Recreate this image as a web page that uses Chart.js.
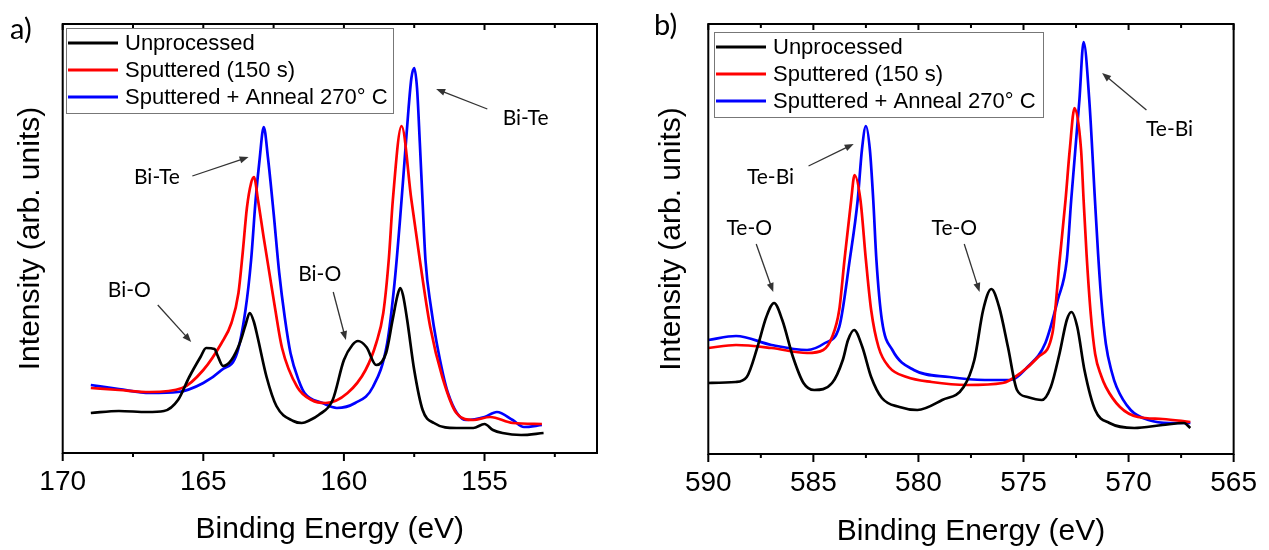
<!DOCTYPE html>
<html>
<head>
<meta charset="utf-8">
<script src="https://cdn.jsdelivr.net/npm/chart.js"></script>
<style>
  body { margin: 0; background: #fff; }
  #wrap { position: relative; width: 1269px; height: 550px; }
  canvas { position: absolute; top: 0; }
  #biChart { left: 0; }
  #teChart { left: 634px; }
</style>
</head>
<body>
<div id="wrap">
  <canvas id="biChart" width="634" height="550"></canvas>
  <canvas id="teChart" width="635" height="550"></canvas>
</div>
<script>
// series names (same for both panels)
const seriesNames = ['Unprocessed', 'Sputtered (150 s)', 'Sputtered + Anneal 270\u00b0 C'];
const seriesColors = ['#000000', '#ff0000', '#0000ff'];

// ---- panel a) Bi 4f ----
const biTicks = [170, 165, 160, 155];
const biMinor = [167.5, 162.5, 157.5, 152.5];

const biUnprocE = [169.0, 168.0, 167.0, 166.4, 165.9, 165.5, 165.1, 164.9, 164.6, 164.5, 164.3, 164.0, 163.7, 163.5, 163.35, 163.2, 163.07, 162.75, 162.4, 161.8, 161.5, 161.2, 160.9, 160.4, 160.0, 159.7, 159.5, 159.2, 158.85, 158.5, 158.27, 158.1, 158.0, 157.9, 157.75, 157.5, 157.2, 156.8, 156.0, 155.4, 155.0, 154.7, 154.36, 153.7, 152.9];
const biUnprocI = [40, 42, 41, 42, 53, 76, 96, 105, 104, 98, 87, 93, 110, 128, 140, 131, 116, 76, 47, 32, 30, 33, 38, 53, 93, 108, 112, 106, 88, 100, 133, 157, 165, 158, 133, 83, 43, 30, 25, 25, 29, 23, 20, 18, 20];

const biSputE = [169.0, 168.0, 166.9, 165.75, 165.0, 164.35, 164.0, 163.75, 163.6, 163.45, 163.3, 163.2, 163.05, 162.85, 162.65, 162.45, 162.2, 161.66, 161.15, 160.65, 159.87, 159.23, 158.85, 158.6, 158.4, 158.26, 157.95, 157.6, 157.3, 156.93, 156.5, 156.0, 155.4, 154.8, 154.0, 152.96];
const biSputI = [65, 63, 61, 65, 83, 110, 130, 160, 200, 245, 270, 276, 252, 215, 180, 145, 105, 66, 53, 50, 60, 83, 110, 140, 195, 253, 327, 253, 193, 126, 76, 40, 33, 36, 30, 29];

const biAnnealE = [169.0, 168.0, 166.9, 165.9, 165.0, 164.35, 163.8, 163.5, 163.3, 163.14, 163.0, 162.85, 162.7, 162.5, 162.3, 162.1, 161.9, 161.6, 161.4, 160.76, 160.25, 159.6, 158.97, 158.46, 158.2, 158.0, 157.85, 157.7, 157.6, 157.5, 157.4, 157.3, 157.2, 157.1, 156.9, 156.7, 156.3, 155.65, 155.0, 154.56, 154.0, 153.6, 152.96];
const biAnnealI = [68, 64, 60, 61, 70, 83, 100, 143, 193, 253, 293, 326, 295, 240, 180, 135, 100, 72, 60, 50, 45, 50, 66, 110, 170, 235, 290, 345, 375, 385, 365, 310, 250, 193, 145, 110, 60, 33, 36, 41, 33, 26, 28];

// ---- panel b) Te 3d ----
const teTicks = [590, 585, 580, 575, 570, 565];
const teMinor = [587.5, 582.5, 577.5, 572.5, 567.5];

const teUnprocE = [590.0, 588.7, 588.17, 587.66, 587.24, 586.87, 586.48, 585.97, 585.47, 584.96, 584.11, 583.6, 583.35, 583.06, 582.67, 582.25, 581.74, 580.9, 580.05, 578.87, 577.85, 577.34, 576.92, 576.53, 576.16, 575.74, 575.31, 574.81, 574.13, 573.7, 573.28, 572.94, 572.72, 572.44, 572.1, 571.59, 570.91, 569.73, 568.38, 567.36, 567.06];
const teUnprocI = [71, 72, 77, 107, 137, 151, 134, 97, 71, 64, 71, 94, 114, 124, 107, 77, 56, 47, 44, 54, 67, 94, 144, 165, 147, 107, 64, 57, 54, 67, 101, 134, 142, 127, 84, 44, 31, 26, 29, 31, 26];

const teSputE = [590.0, 588.68, 586.99, 585.3, 584.53, 584.11, 583.77, 583.52, 583.2, 583.04, 582.76, 582.5, 582.25, 581.9, 581.4, 580.56, 579.37, 577.68, 575.99, 575.14, 574.3, 573.62, 573.28, 573.0, 572.8, 572.57, 572.26, 572.14, 572.0, 571.8, 571.59, 571.3, 571.08, 570.41, 569.56, 568.38, 567.06];
const teSputI = [106, 109, 106, 101, 104, 117, 144, 194, 254, 279, 254, 194, 144, 107, 87, 77, 72, 69, 71, 81, 97, 121, 194, 254, 304, 346, 304, 254, 200, 140, 100, 78, 67, 47, 37, 35, 32];

const teAnnealE = [590.0, 588.68, 586.99, 585.3, 584.45, 583.77, 583.27, 582.89, 582.69, 582.5, 582.31, 582.15, 582.0, 581.74, 581.24, 580.22, 578.53, 576.84, 575.65, 574.81, 573.96, 573.37, 572.94, 572.73, 572.34, 572.14, 571.87, 571.6, 571.45, 571.3, 571.08, 570.8, 570.57, 569.9, 569.05, 568.04, 567.06];
const teAnnealI = [114, 118, 109, 104, 111, 127, 194, 254, 304, 328, 304, 254, 194, 134, 104, 84, 77, 74, 74, 87, 111, 154, 194, 254, 354, 412, 354, 254, 200, 155, 110, 82, 67, 44, 34, 31, 31];

const textFont = "'Liberation Sans', Arial, sans-serif";
const noteFont = "Lato, 'Open Sans', sans-serif";

function pts(xs, ys) {
    return xs.map(function (x, i) { return { x: x, y: ys[i] }; });
}

function makeSets(series) {
    return series.map(function (s, i) {
        return {
            label: seriesNames[i],
            data: pts(s[0], s[1]),
            borderColor: seriesColors[i],
            borderWidth: 2.7,
            pointRadius: 0,
            cubicInterpolationMode: 'monotone',
            fill: false
        };
    });
}

function arrow(ctx, x0, y0, x1, y1) {
    const ang = Math.atan2(y1 - y0, x1 - x0);
    const hl = 9, hw = 3.5;
    ctx.beginPath();
    ctx.moveTo(x0, y0);
    ctx.lineTo(x1 - Math.cos(ang) * hl * 0.8, y1 - Math.sin(ang) * hl * 0.8);
    ctx.stroke();
    ctx.beginPath();
    ctx.moveTo(x1, y1);
    ctx.lineTo(x1 - hl * Math.cos(ang) + hw * Math.sin(ang), y1 - hl * Math.sin(ang) - hw * Math.cos(ang));
    ctx.lineTo(x1 - hl * Math.cos(ang) - hw * Math.sin(ang), y1 - hl * Math.sin(ang) + hw * Math.cos(ang));
    ctx.closePath();
    ctx.fill();
}

// frame, ticks, legend, peak labels and panel letter
const framePlugin = {
    id: 'frame',
    afterDatasetsDraw: function (chart, args, opts) {
        const ctx = chart.ctx, a = chart.chartArea;
        const xs = chart.scales.x, ys = chart.scales.y;
        ctx.save();
        ctx.strokeStyle = '#000';
        ctx.lineWidth = 2;
        ctx.strokeRect(a.left, a.top, a.right - a.left, a.bottom - a.top);

        function tick(v, down, up) {
            const px = xs.getPixelForValue(v);
            ctx.beginPath();
            ctx.moveTo(px, a.bottom); ctx.lineTo(px, a.bottom + down);
            ctx.moveTo(px, a.top); ctx.lineTo(px, a.top + up);
            ctx.stroke();
        }
        opts.major.forEach(function (v) { tick(v, 8, 6); });
        opts.minor.forEach(function (v) { tick(v, 4, 4); });

        // peak labels
        ctx.font = '21px ' + noteFont;
        ctx.textAlign = 'center';
        ctx.textBaseline = 'middle';
        ctx.fillStyle = '#000';
        ctx.strokeStyle = '#333';
        ctx.lineWidth = 1.3;
        opts.notes.forEach(function (n) {
            ctx.fillText(n.t, xs.getPixelForValue(n.x), ys.getPixelForValue(n.y));
            ctx.fillStyle = '#333';
            arrow(ctx, xs.getPixelForValue(n.from[0]), ys.getPixelForValue(n.from[1]),
                xs.getPixelForValue(n.to[0]), ys.getPixelForValue(n.to[1]));
            ctx.fillStyle = '#000';
        });

        // legend box
        const L = opts.legend;
        const bx = a.left + L.dx, by = a.top + L.dy;
        ctx.fillStyle = '#fff';
        ctx.fillRect(bx, by, L.w, L.h);
        ctx.strokeStyle = '#777';
        ctx.lineWidth = 1;
        ctx.strokeRect(bx + 0.5, by + 0.5, L.w, L.h);
        ctx.font = '22px ' + textFont;
        ctx.textAlign = 'left';
        chart.data.datasets.forEach(function (ds, i) {
            const yy = by + 15 + i * 27;
            ctx.strokeStyle = ds.borderColor;
            ctx.lineWidth = 3;
            ctx.beginPath();
            ctx.moveTo(bx + 2, yy); ctx.lineTo(bx + 52, yy);
            ctx.stroke();
            ctx.fillStyle = '#000';
            ctx.fillText(ds.label, bx + 59, yy + 1);
        });

        // panel letter
        ctx.font = '29px ' + noteFont;
        ctx.fillText(opts.letter[0], opts.letter[1], opts.letter[2]);
        ctx.restore();
    }
};

function makeChart(id, series, cfg) {
    const ctx = document.getElementById(id).getContext('2d');
    return new Chart(ctx, {
        type: 'line',
        data: { datasets: makeSets(series) },
        plugins: [framePlugin],
        options: {
            responsive: false,
            animation: false,
            layout: { padding: { top: 24, right: cfg.padRight, left: 0, bottom: 0 } },
            plugins: {
                legend: { display: false },
                tooltip: { enabled: false },
                frame: cfg.frame
            },
            scales: {
                x: {
                    type: 'linear',
                    reverse: true,
                    min: cfg.xMin,
                    max: cfg.xMax,
                    grid: { display: false, drawTicks: false },
                    border: { display: false },
                    afterBuildTicks: function (s) { s.ticks = cfg.ticks.map(function (v) { return { value: v }; }); },
                    ticks: {
                        autoSkip: false, maxRotation: 0, padding: 12, color: '#000',
                        font: { family: textFont, size: 28 }
                    },
                    title: {
                        display: true, text: 'Binding Energy (eV)', color: '#000',
                        font: { family: textFont, size: 30 }, padding: { top: 0, bottom: cfg.titlePadB }
                    },
                    afterFit: function (s) { s.height = cfg.xAxisH; }
                },
                y: {
                    min: 0,
                    max: cfg.yMax,
                    grid: { display: false, drawTicks: false },
                    border: { display: false },
                    ticks: { display: false },
                    title: {
                        display: true, text: 'Intensity (arb. units)', color: '#000',
                        font: { family: textFont, size: 30 }, padding: { top: cfg.yTitlePad, bottom: 0 }
                    },
                    afterFit: function (s) { s.width = cfg.yAxisW; }
                }
            }
        }
    });
}

makeChart('biChart', [[biUnprocE, biUnprocI], [biSputE, biSputI], [biAnnealE, biAnnealI]], {
    xMin: 151, xMax: 170, ticks: biTicks, yMax: 429,
    padRight: 37, yAxisW: 62.7, xAxisH: 97, yTitlePad: 13, titlePadB: 2,
    frame: {
        major: biTicks, minor: biMinor,
        legend: { dx: 3.3, dy: 4, w: 327, h: 85 },
        letter: ['a)', 10, 30],
        notes: [
            { t: 'Bi-Te', x: 153.54, y: 335, from: [154.9, 344], to: [156.72, 364] },
            { t: 'Bi-Te', x: 166.65, y: 276, from: [165.39, 277], to: [163.39, 296] },
            { t: 'Bi-O', x: 167.63, y: 163, from: [166.62, 148], to: [165.43, 111] },
            { t: 'Bi-O', x: 160.86, y: 179, from: [160.38, 161], to: [159.93, 113] }
        ]
    }
});

makeChart('teChart', [[teUnprocE, teUnprocI], [teSputE, teSputI], [teAnnealE, teAnnealI]], {
    xMin: 565, xMax: 590, ticks: teTicks, yMax: 430,
    padRight: 27.3, yAxisW: 74.3, xAxisH: 96, yTitlePad: 19.6, titlePadB: 0,
    frame: {
        major: teTicks, minor: teMinor,
        legend: { dx: 5.7, dy: 8, w: 329, h: 85 },
        letter: ['b)', 20, 26],
        notes: [
            { t: 'Te-Bi', x: 587.04, y: 277, from: [585.23, 288], to: [583.08, 310] },
            { t: 'Te-Bi', x: 568.05, y: 325, from: [569.15, 344], to: [571.26, 381] },
            { t: 'Te-O', x: 588.05, y: 226, from: [587.72, 210], to: [586.91, 162] },
            { t: 'Te-O', x: 578.29, y: 226, from: [577.82, 210], to: [577.09, 162] }
        ]
    }
});
</script>
</body>
</html>
